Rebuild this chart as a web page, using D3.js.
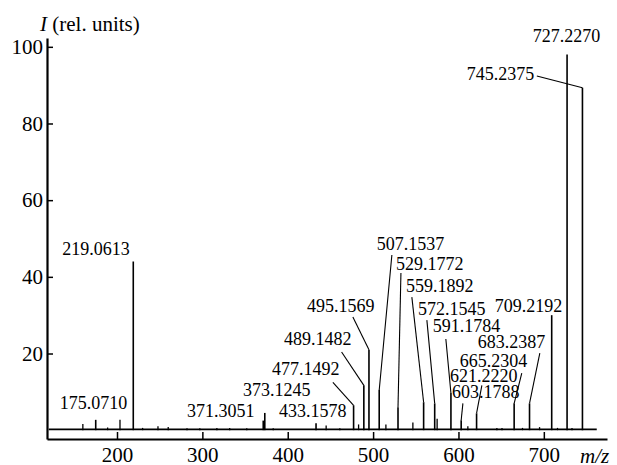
<!DOCTYPE html>
<html>
<head>
<meta charset="utf-8">
<script src="https://cdn.jsdelivr.net/npm/d3@7"></script>
<style>
  body { margin: 0; background: #fff; }
  svg text { font-family: "Liberation Serif", "Times New Roman", Times, "DejaVu Serif", serif; fill: #000; }
  .axis path, .axis line { stroke: #000; }
</style>
</head>
<body>
<script>
// labelled peaks: m/z and relative intensity
var peakMz = [175.0710, 219.0613, 371.3051, 373.1245, 433.1578, 477.1492, 489.1482, 495.1569,
              507.1537, 529.1772, 559.1892, 572.1545, 591.1784, 603.1788, 621.2220, 665.2304,
              683.2387, 709.2192, 727.2270, 745.2375];
var peakI  = [2.7, 44, 2.5, 4.5, 1.8, 6.5, 11.7, 21, 10.5, 6, 7.3, 7, 9.7, 2.6, 4.4, 7, 7, 30, 98, 89.3];

// where each label sits (m/z of left edge, intensity of baseline) and where its leader starts
var labelMz = [133, 136, 282, 347.5, 389.7, 381.5, 395.6, 422.5, 504.4, 526.7, 538.4, 552.5, 570,
               592.3, 590, 601.6, 622.7, 642.6, 687, 609.8];
var labelI  = [5.5, 45.7, 3.4, 8.9, 3.4, 14.4, 22.2, 30.8, 47, 41.8, 36, 30, 25.6, 8.4, 12.5, 16.4,
               21.4, 30.8, 101.3, 91.4];
var leadMz  = [null, null, null, null, null, 452.9, 463.1, 476.3, 522, 532.6, 545.4, 563, 585.2,
               605.2, 627.4, 674.2, 695.3, 709.2, null, 691.8];
var leadI   = [null, null, null, null, null, 12.5, 20.4, 29.5, 45.7, 41, 34.7, 28.7, 23.8, 7, 11.7,
               14.9, 20.1, 30, null, 92.4];

// small unlabelled peaks along the baseline
var minorMz = [160, 189, 203.5, 230, 248, 260, 282, 297, 317, 332, 352, 383, 445, 461, 483, 515,
               546.6, 575, 611, 645, 651, 675, 695, 716, 733];
var minorI  = [1.6, 0.7, 2.7, 0.6, 1.0, 0.8, 0.5, 0.5, 0.6, 0.6, 0.5, 0.5, 1.2, 0.5, 1.5, 1.5,
               2, 3, 1, 0.6, 0.6, 0.6, 0.8, 0.6, 0.6];

var xTicks = [200, 300, 400, 500, 600, 700];
var yTicks = [20, 40, 60, 80, 100];

var serif = "'Liberation Serif', 'Times New Roman', Times, 'DejaVu Serif', serif";
var width = 617, height = 465;

var x = d3.scaleLinear().domain([118, 774]).range([47, 607]);
var y = d3.scaleLinear().domain([-2.3, 102.3]).range([439, 38]);

var svg = d3.select("body").append("svg").attr("width", width).attr("height", height);

// baseline of the spectrum
svg.append("line")
    .attr("x1", x(120)).attr("x2", x(762))
    .attr("y1", y(0.2)).attr("y2", y(0.2))
    .attr("stroke", "#000").attr("stroke-width", 1.6);

svg.append("g").selectAll("line").data(minorMz).enter().append("line")
    .attr("x1", function(d) { return x(d); }).attr("x2", function(d) { return x(d); })
    .attr("y1", y(0)).attr("y2", function(d, i) { return y(minorI[i]); })
    .attr("stroke", "#000").attr("stroke-width", 1.3);

svg.append("g").selectAll("line").data(peakMz).enter().append("line")
    .attr("x1", function(d) { return x(d); }).attr("x2", function(d) { return x(d); })
    .attr("y1", y(0)).attr("y2", function(d, i) { return y(peakI[i]); })
    .attr("stroke", "#000").attr("stroke-width", 1.6);

// leader lines
svg.append("g").selectAll("line").data(peakMz).enter()
    .filter(function(d, i) { return leadMz[i] !== null; })
    .append("line")
    .attr("x1", function(d) { return x(leadMz[peakMz.indexOf(d)]); })
    .attr("y1", function(d) { return y(leadI[peakMz.indexOf(d)]); })
    .attr("x2", function(d) { return x(d); })
    .attr("y2", function(d) { return y(peakI[peakMz.indexOf(d)]); })
    .attr("stroke", "#000").attr("stroke-width", 1.1);

svg.append("g").selectAll("text").data(peakMz).enter().append("text")
    .attr("x", function(d, i) { return x(labelMz[i]); })
    .attr("y", function(d, i) { return y(labelI[i]); })
    .attr("font-family", serif)
    .attr("font-size", 18)
    .text(function(d) { return d.toFixed(4); });

// axes
var xAxis = d3.axisBottom(x).tickValues(xTicks).tickSizeInner(-7).tickSizeOuter(0).tickPadding(8);
var yAxis = d3.axisLeft(y).tickValues(yTicks).tickSizeInner(-6).tickSizeOuter(0).tickPadding(4);

var gx = svg.append("g").attr("class", "axis x").attr("transform", "translate(0,439)").call(xAxis)
    .attr("font-family", serif).attr("font-size", 21);
gx.select(".domain").attr("stroke-width", 2.2);
gx.selectAll(".tick line").attr("stroke-width", 1.5);

var gy = svg.append("g").attr("class", "axis y").attr("transform", "translate(47,0)").call(yAxis)
    .attr("font-family", serif).attr("font-size", 21);
gy.select(".domain").attr("stroke-width", 2.2);
gy.selectAll(".tick line").attr("stroke-width", 1.5);

var yt = svg.append("text").attr("x", 40).attr("y", 31)
    .attr("font-family", serif).attr("font-size", 21);
yt.append("tspan").attr("font-style", "italic").text("I");
yt.append("tspan").text(" (rel. units)");

svg.append("text").attr("x", 580).attr("y", 463)
    .attr("font-family", serif).attr("font-size", 21).attr("font-style", "italic")
    .text("m/z");
</script>
</body>
</html>
